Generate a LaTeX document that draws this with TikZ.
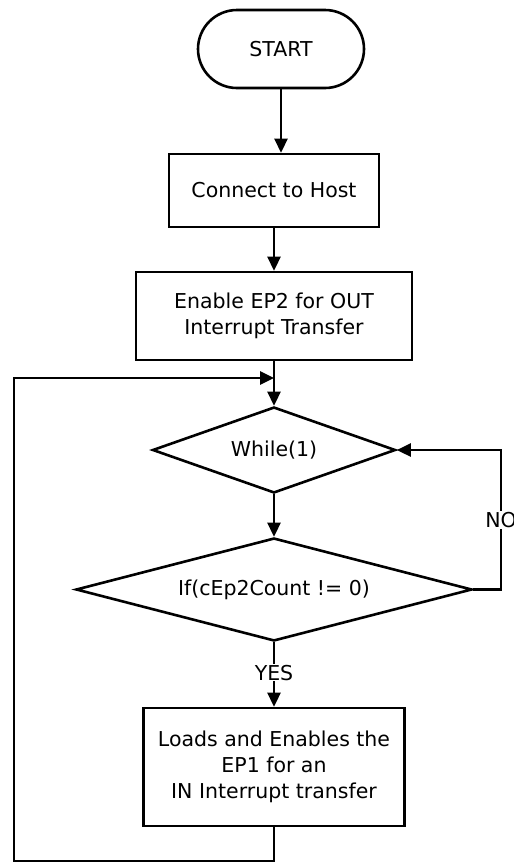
\documentclass[tikz,border=0pt]{standalone}
\usepackage{fontspec}
\setmainfont{DejaVu Sans}
\usetikzlibrary{shapes.geometric,shapes.misc,arrows.meta}
\begin{document}
\begin{tikzpicture}[x=1pt,y=-1pt,
  every node/.style={font=\fontsize{20.5pt}{26pt}\selectfont, align=center},
  procbox/.style={draw, line width=2.6pt, rectangle, inner sep=0pt},
  decide/.style={draw, line width=2.6pt, diamond, aspect=3, inner sep=0pt},
  conn/.style={line width=2.6pt, -{Triangle[length=14pt,width=13pt]}},
  lbl/.style={fill=white, inner sep=1pt}]
\useasboundingbox (0,0) rectangle (514,863);
\node[draw, line width=2.6pt, rounded rectangle, minimum width=166pt, minimum height=78pt, inner sep=0pt] (start) at (281,49) {START};
\node[procbox, minimum width=210pt, minimum height=73pt] (connect) at (274,190.5) {Connect to Host};
\node[procbox, minimum width=276pt, minimum height=88pt] (enable) at (274,316) {Enable EP2 for OUT\\Interrupt Transfer};
\node[decide, minimum width=243pt, minimum height=86pt] (while) at (274,450) {While(1)};
\node[decide, minimum width=396pt, minimum height=103pt] (if) at (274,589.5) {If(cEp2Count != 0)};
\node[procbox, minimum width=261pt, minimum height=118pt] (loads) at (274,767) {Loads and Enables the\\EP1 for an\\IN Interrupt transfer};
\coordinate (join) at (274,378);
\coordinate (bl) at (14,861);
\coordinate (br) at (274,861);
\coordinate (tl) at (14,378);
\coordinate (nr) at (501,589.5);
\coordinate (nt) at (501,450);
\draw[conn] (start.south) -- (start.south |- connect.north);
\draw[conn] (connect.south) -- (enable.north);
\draw[conn] (enable.south) -- (while.north);
\draw[conn] (while.south) -- (if.north);
\draw[conn] (if.south) -- node[lbl, pos=0.47] {YES} (loads.north);
\draw[conn] (if.east) -- (nr) -- node[lbl, pos=0.5] {NO} (nt) -- (while.east);
\draw[conn] (loads.south) -- (br) -- (bl) -- (tl) -- (join);
\end{tikzpicture}
\end{document}
